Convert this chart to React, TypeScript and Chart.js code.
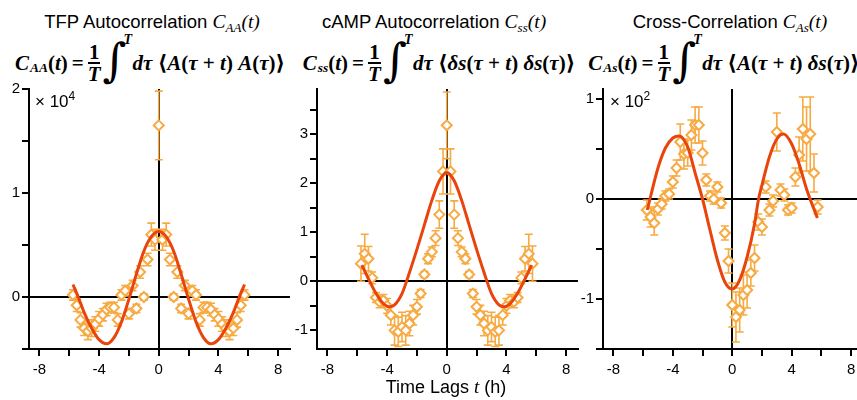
import React, { useEffect, useRef } from 'react';
import { Chart, registerables } from 'chart.js';

Chart.register(...registerables);

// ---------- data ----------
const LAGS = [-5.75, -5.5, -5.25, -5, -4.75, -4.5, -4.25, -4, -3.75, -3.5, -3.25, -3, -2.75, -2.5, -2.25, -2, -1.75, -1.5, -1.25, -1, -0.75, -0.5, -0.25, 0, 0.25, 0.5, 0.75, 1, 1.25, 1.5, 1.75, 2, 2.25, 2.5, 2.75, 3, 3.25, 3.5, 3.75, 4, 4.25, 4.5, 4.75, 5, 5.25, 5.5, 5.75];

const TFP_VALUES = [0.02, -0.08, -0.22, -0.3, -0.33, -0.3, -0.26, -0.21, -0.17, -0.12, -0.1, -0.1, -0.22, 0.02, 0.06, -0.16, 0.11, -0.11, 0.24, 0.0, 0.36, 0.6, 0.55, 1.65, 0.55, 0.6, 0.36, 0.0, 0.24, -0.11, 0.11, -0.16, 0.06, 0.02, -0.22, -0.1, -0.1, -0.12, -0.17, -0.21, -0.26, -0.3, -0.33, -0.3, -0.22, -0.08, 0.02];
const TFP_ERRORS = [0.05, 0.06, 0.07, 0.07, 0.08, 0.08, 0.07, 0.07, 0.06, 0.06, 0.05, 0.05, 0.06, 0.05, 0.05, 0.05, 0.05, 0.04, 0.06, 0.03, 0.06, 0.11, 0.1, 0.33, 0.1, 0.11, 0.06, 0.03, 0.06, 0.04, 0.05, 0.05, 0.05, 0.05, 0.06, 0.05, 0.05, 0.06, 0.06, 0.07, 0.07, 0.08, 0.08, 0.07, 0.07, 0.06, 0.05];
const TFP_FIT_X = [-5.75, -5.4, -5, -4.5, -4, -3.5, -3, -2.5, -2, -1.5, -1, -0.5, 0, 0.5, 1, 1.5, 2, 2.5, 3, 3.5, 4, 4.5, 5, 5.4, 5.75];
const TFP_FIT_Y = [0.12, 0.0, -0.15, -0.3, -0.41, -0.45, -0.39, -0.24, -0.02, 0.22, 0.44, 0.58, 0.63, 0.58, 0.44, 0.22, -0.02, -0.24, -0.39, -0.45, -0.41, -0.3, -0.15, 0.0, 0.12];

const CAMP_VALUES = [0.36, 0.56, 0.46, 0.07, -0.33, -0.42, -0.39, -0.5, -0.69, -1.0, -1.03, -0.93, -1.0, -0.86, -0.69, -0.52, -0.25, 0.14, 0.46, 0.6, 0.88, 1.36, 2.24, 3.18, 2.24, 1.36, 0.88, 0.6, 0.46, 0.14, -0.25, -0.52, -0.69, -0.86, -1.0, -0.93, -1.03, -1.0, -0.69, -0.5, -0.39, -0.42, -0.33, 0.07, 0.46, 0.56, 0.36];
const CAMP_ERRORS = [0.36, 0.4, 0.25, 0.12, 0.1, 0.12, 0.12, 0.15, 0.2, 0.3, 0.3, 0.3, 0.3, 0.25, 0.2, 0.15, 0.08, 0.06, 0.1, 0.1, 0.15, 0.28, 0.46, 0.68, 0.46, 0.28, 0.15, 0.1, 0.1, 0.06, 0.08, 0.15, 0.2, 0.25, 0.3, 0.3, 0.3, 0.3, 0.2, 0.15, 0.12, 0.12, 0.1, 0.12, 0.25, 0.4, 0.36];
const CAMP_FIT_X = [-5.7, -5.2, -4.7, -4.2, -3.85, -3.5, -3, -2.5, -2, -1.5, -1, -0.5, 0, 0.5, 1, 1.5, 2, 2.5, 3, 3.5, 3.85, 4.2, 4.7, 5.2, 5.7];
const CAMP_FIT_Y = [0.33, 0.02, -0.27, -0.47, -0.52, -0.48, -0.25, 0.18, 0.65, 1.15, 1.65, 2.05, 2.22, 2.05, 1.65, 1.15, 0.65, 0.18, -0.25, -0.48, -0.52, -0.47, -0.27, 0.02, 0.33];

const CROSS_VALUES = [-0.11, -0.18, -0.24, -0.1, -0.05, 0.03, 0.05, 0.17, 0.31, 0.57, 0.45, 0.46, 0.64, 0.74, 0.74, 0.46, 0.19, 0.03, 0.0, 0.12, -0.04, -0.34, -0.62, -1.06, -1.18, -1.11, -0.96, -0.91, -0.74, -0.59, -0.23, -0.28, 0.12, -0.11, -0.02, 0.67, 0.09, 0.04, -0.11, -0.09, 0.22, 0.44, 0.7, 0.6, 0.65, 0.26, -0.08];
const CROSS_ERRORS = [0.1, 0.1, 0.12, 0.06, 0.05, 0.05, 0.05, 0.06, 0.08, 0.18, 0.15, 0.13, 0.15, 0.18, 0.18, 0.12, 0.06, 0.05, 0.05, 0.05, 0.05, 0.07, 0.12, 0.22, 0.25, 0.22, 0.2, 0.18, 0.13, 0.13, 0.08, 0.08, 0.06, 0.06, 0.06, 0.19, 0.06, 0.06, 0.05, 0.05, 0.09, 0.18, 0.32, 0.32, 0.37, 0.19, 0.07];
const CROSS_FIT_X = [-5.72, -5, -4.5, -4, -3.56, -3, -2.5, -2, -1.5, -1, -0.5, 0, 0.5, 1, 1.5, 1.77, 2, 2.5, 3, 3.45, 4, 4.5, 5, 5.73];
const CROSS_FIT_Y = [-0.11, 0.31, 0.51, 0.61, 0.63, 0.52, 0.26, 0.0, -0.31, -0.61, -0.83, -0.9, -0.81, -0.58, -0.25, 0.0, 0.14, 0.42, 0.6, 0.65, 0.55, 0.35, 0.1, -0.19];

const X_TICK_LABELS = [-8, -4, 0, 4, 8];
const TFP_Y_LABELS = [0, 1, 2];
const CAMP_Y_LABELS = [-1, 0, 1, 2, 3];
const CROSS_Y_LABELS = [-1, 0, 1];

// ---------- style ----------
const ORANGE = '#F7AA42';
const RED = '#E8440C';
const SANS = '"Liberation Sans", Arial, Helvetica, sans-serif';
const SERIF = '"Liberation Serif", "DejaVu Serif", serif';
const CANVAS_TOP = 78;
const CANVAS_H = 302;
const X_AXIS_H = 31;

const errorBarPlugin = {
  id: 'errorBars',
  beforeDatasetsDraw(chart: any, _args: any, opts: any) {
    const errs: number[] = opts.errors || [];
    const ds = chart.data.datasets[1];
    const { ctx, scales } = chart;
    const xs = scales.x;
    const ys = scales.y;
    ctx.save();
    ctx.strokeStyle = ORANGE;
    ctx.lineWidth = 1.6;
    ds.data.forEach((pt: any, i: number) => {
      const e = errs[i] || 0;
      const px = xs.getPixelForValue(pt.x);
      const top = ys.getPixelForValue(pt.y + e);
      const bot = ys.getPixelForValue(pt.y - e);
      ctx.beginPath();
      ctx.moveTo(px, top);
      ctx.lineTo(px, bot);
      ctx.moveTo(px - 4, top);
      ctx.lineTo(px + 4, top);
      ctx.moveTo(px - 4, bot);
      ctx.lineTo(px + 4, bot);
      ctx.stroke();
    });
    ctx.restore();
  },
};

const isLabel = (list: number[], v: number) => list.some((l) => Math.abs(l - v) < 1e-6);

type PanelProps = {
  left: number;
  width: number;
  yWidth: number;
  padRight: number;
  yMin: number;
  yMax: number;
  yLabels: number[];
  values: number[];
  errors: number[];
  fitX: number[];
  fitY: number[];
};

function Panel(p: PanelProps) {
  const ref = useRef<HTMLCanvasElement>(null);
  useEffect(() => {
    const points = LAGS.map((x, i) => ({ x, y: p.values[i] }));
    const fit = p.fitX.map((x, i) => ({ x, y: p.fitY[i] }));
    const gridCommon = {
      drawOnChartArea: true,
      color: (c: any) => (c.tick && Math.abs(c.tick.value) < 1e-9 ? '#000' : 'rgba(0,0,0,0)'),
      lineWidth: 2,
      tickColor: '#000',
      tickWidth: 2,
      tickLength: 7,
    };
    const chart = new Chart(ref.current as HTMLCanvasElement, {
      type: 'scatter',
      data: {
        datasets: [
          {
            data: fit,
            showLine: true,
            borderColor: RED,
            borderWidth: 3,
            pointRadius: 0,
            cubicInterpolationMode: 'monotone',
            fill: false,
          } as any,
          {
            data: points,
            showLine: false,
            pointStyle: 'rectRot',
            pointRadius: 5,
            pointBorderWidth: 2,
            pointBorderColor: ORANGE,
            pointBackgroundColor: '#fff',
          } as any,
        ],
      },
      options: {
        responsive: false,
        animation: false,
        devicePixelRatio: 1,
        events: [],
        layout: { padding: { top: 10, right: p.padRight, left: 0, bottom: 0 } },
        plugins: {
          legend: { display: false },
          tooltip: { enabled: false },
          errorBars: { errors: p.errors },
        } as any,
        scales: {
          x: {
            type: 'linear',
            min: -8.7,
            max: 8.8,
            afterFit: (s: any) => {
              s.height = X_AXIS_H;
            },
            border: { display: true, color: '#000', width: 2 },
            grid: gridCommon,
            ticks: {
              stepSize: 2,
              includeBounds: false,
              autoSkip: false,
              maxRotation: 0,
              padding: 5,
              color: '#000',
              font: { family: SANS, size: 15 },
              callback: (v: any) => (isLabel(X_TICK_LABELS, Number(v)) ? String(Math.round(Number(v))) : ''),
            },
          },
          y: {
            type: 'linear',
            min: p.yMin,
            max: p.yMax,
            afterFit: (s: any) => {
              s.width = p.yWidth;
            },
            border: { display: true, color: '#000', width: 2 },
            grid: gridCommon,
            ticks: {
              stepSize: 0.5,
              includeBounds: false,
              autoSkip: false,
              padding: 2,
              color: '#000',
              font: { family: SANS, size: 15 },
              callback: (v: any) => (isLabel(p.yLabels, Number(v)) ? String(Math.round(Number(v))) : ''),
            },
          },
        },
      } as any,
      plugins: [errorBarPlugin as any],
    });
    return () => chart.destroy();
  }, []);
  return (
    <canvas
      ref={ref}
      width={p.width}
      height={CANVAS_H}
      style={{ position: 'absolute', left: p.left, top: CANVAS_TOP, width: p.width, height: CANVAS_H }}
    />
  );
}

function Title({ cx, text, sub }: { cx: number; text: string; sub: string }) {
  return (
    <div
      style={{
        position: 'absolute',
        left: cx - 160,
        width: 320,
        top: 11,
        textAlign: 'center',
        fontFamily: SANS,
        fontSize: 18.5,
        lineHeight: '22px',
        whiteSpace: 'nowrap',
        color: '#000',
      }}
    >
      {text}{' '}
      <span style={{ fontFamily: SERIF, fontStyle: 'italic', fontSize: 19.5 }}>
        C<span style={{ fontSize: 13, position: 'relative', top: 4 }}>{sub}</span>(t)
      </span>
    </div>
  );
}

function Formula({ cx, sub, body }: { cx: number; sub: string; body: React.ReactNode }) {
  return (
    <div
      style={{
        position: 'absolute',
        left: cx - 170,
        width: 340,
        top: 38,
        height: 50,
        display: 'flex',
        alignItems: 'center',
        justifyContent: 'center',
        fontFamily: SERIF,
        fontWeight: 700,
        fontSize: 21,
        whiteSpace: 'pre',
        color: '#000',
      }}
    >
      <i>C</i>
      <i style={{ fontSize: 13.5, position: 'relative', top: 5, marginLeft: 1 }}>{sub}</i>
      <span>
        (<i>t</i>)
      </span>
      <span style={{ margin: '0 4px' }}>=</span>
      <span
        style={{
          display: 'inline-flex',
          flexDirection: 'column',
          alignItems: 'center',
          lineHeight: '20px',
          fontSize: 21,
          marginRight: 1,
        }}
      >
        <span style={{ borderBottom: '2px solid #000', padding: '0 1px' }}>1</span>
        <i>T</i>
      </span>
      <span style={{ position: 'relative', display: 'inline-block', width: 31, height: 50 }}>
        <span
          style={{
            position: 'absolute',
            left: 1,
            top: -6,
            fontSize: 46,
            fontWeight: 400,
            lineHeight: '56px',
            fontFamily: '"DejaVu Serif", serif',
          }}
        >
          ∫
        </span>
        <i style={{ position: 'absolute', left: 22, top: -6, fontSize: 14, lineHeight: '16px' }}>T</i>
      </span>
      {body}
    </div>
  );
}

export default function App() {
  return (
    <div
      style={{
        position: 'fixed',
        left: 0,
        top: 0,
        width: 857,
        height: 400,
        overflow: 'hidden',
        background: '#fff',
      }}
    >
      <Title cx={152} text="TFP Autocorrelation" sub="AA" />
      <Title cx={434} text="cAMP Autocorrelation" sub="ss" />
      <Title cx={730} text="Cross-Correlation" sub="As" />

      <Formula
        cx={150}
        sub="AA"
        body={
          <span>
            <i>dτ</i> ⟨<i>A</i>(<i>τ</i> + <i>t</i>) <i>A</i>(<i>τ</i>)⟩
          </span>
        }
      />
      <Formula
        cx={439}
        sub="ss"
        body={
          <span>
            <i>dτ</i> ⟨<i>δs</i>(<i>τ</i> + <i>t</i>) <i>δs</i>(<i>τ</i>)⟩
          </span>
        }
      />
      <Formula
        cx={724}
        sub="As"
        body={
          <span>
            <i>dτ</i> ⟨<i>A</i>(<i>τ</i> + <i>t</i>) <i>δs</i>(<i>τ</i>)⟩
          </span>
        }
      />

      <Panel left={0} width={300} yWidth={29} padRight={10} yMin={-0.5} yMax={2} yLabels={TFP_Y_LABELS} values={TFP_VALUES} errors={TFP_ERRORS} fitX={TFP_FIT_X} fitY={TFP_FIT_Y} />
      <Panel left={290} width={295} yWidth={27} padRight={7} yMin={-1.38} yMax={3.92} yLabels={CAMP_Y_LABELS} values={CAMP_VALUES} errors={CAMP_ERRORS} fitX={CAMP_FIT_X} fitY={CAMP_FIT_Y} />
      <Panel left={575} width={295} yWidth={28} padRight={6} yMin={-1.5} yMax={1.1} yLabels={CROSS_Y_LABELS} values={CROSS_VALUES} errors={CROSS_ERRORS} fitX={CROSS_FIT_X} fitY={CROSS_FIT_Y} />

      <div style={{ position: 'absolute', left: 35, top: 92, fontFamily: SANS, fontSize: 17, color: '#000', whiteSpace: 'nowrap' }}>
        × 10<span style={{ fontSize: 12, position: 'relative', top: -7 }}>4</span>
      </div>
      <div style={{ position: 'absolute', left: 610, top: 92, fontFamily: SANS, fontSize: 17, color: '#000', whiteSpace: 'nowrap' }}>
        × 10<span style={{ fontSize: 12, position: 'relative', top: -7 }}>2</span>
      </div>

      <div
        style={{
          position: 'absolute',
          left: 446 - 100,
          width: 200,
          top: 377,
          textAlign: 'center',
          fontFamily: SANS,
          fontSize: 18,
          lineHeight: '20px',
          color: '#000',
          whiteSpace: 'nowrap',
        }}
      >
        Time Lags <span style={{ fontFamily: SERIF, fontStyle: 'italic', fontSize: 19 }}>t</span> (h)
      </div>
    </div>
  );
}
